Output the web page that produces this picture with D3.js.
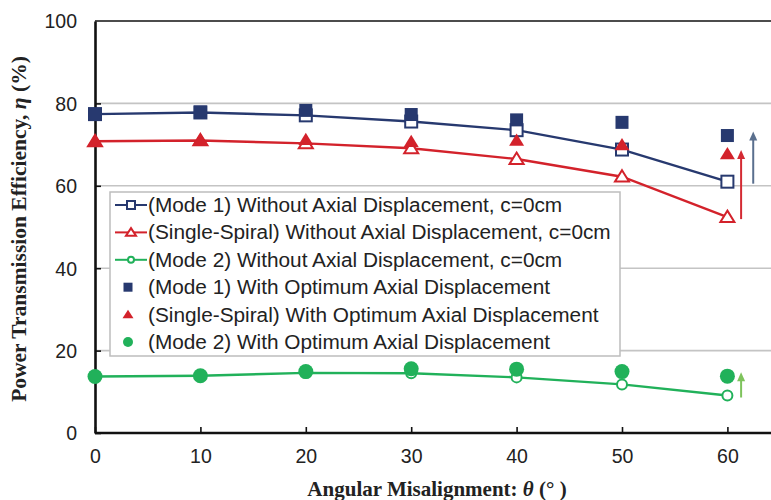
<!DOCTYPE html>
<html>
<head>
<meta charset="utf-8">
<script src="https://cdn.jsdelivr.net/npm/d3@7"></script>
<style>
  html, body { margin: 0; padding: 0; background: #fff; }
  svg { display: block; }
</style>
</head>
<body>
<svg id="chart" width="771" height="500"></svg>
<script>
// angular misalignment (deg)
const angles = [0, 10, 20, 30, 40, 50, 60];
const xTicks = [0, 10, 20, 30, 40, 50, 60];
const yTicks = [0, 20, 40, 60, 80, 100];

// without axial displacement, c=0cm
const mode1Without = [77.4, 77.8, 77.1, 75.6, 73.5, 68.8, 61.0];
const spiralWithout = [70.8, 71.0, 70.3, 69.1, 66.5, 62.2, 52.4];
const mode2Without = [13.7, 13.9, 14.6, 14.5, 13.5, 11.8, 9.1];

// with optimum axial displacement
const mode1With = [77.4, 77.9, 78.3, 77.3, 76.0, 75.4, 72.2];
const spiralWith = [70.8, 71.1, 71.2, 70.7, 71.0, 69.9, 67.7];
const mode2With = [13.7, 13.9, 14.9, 15.6, 15.5, 14.9, 13.8];

const legendLabels = [
  '(Mode 1) Without Axial Displacement, c=0cm',
  '(Single-Spiral) Without Axial Displacement, c=0cm',
  '(Mode 2) Without Axial Displacement, c=0cm',
  '(Mode 1) With Optimum Axial Displacement',
  '(Single-Spiral) With Optimum Axial Displacement',
  '(Mode 2) With Optimum Axial Displacement'
];

const navy = '#27396f';
const red = '#d3222b';
const green = '#21b15a';

const svg = d3.select('#chart');
const W = 771;

const x = d3.scaleLinear().domain([0, 65]).range([95, 95 + 65 * 10.54]);
const y = d3.scaleLinear().domain([0, 100]).range([433, 21]);

const sans = 'Liberation Sans, Arial, Helvetica, sans-serif';
const serif = 'Liberation Serif, Times New Roman, serif';

// grid lines
svg.append('g')
  .selectAll('line')
  .data(yTicks.filter(d => d > 0 && d < 100))
  .join('line')
  .attr('x1', x(0)).attr('x2', W)
  .attr('y1', d => y(d)).attr('y2', d => y(d))
  .attr('stroke', '#c4c4c4')
  .attr('stroke-width', 1.6);

// top border
svg.append('line')
  .attr('x1', x(0)).attr('x2', W)
  .attr('y1', y(100)).attr('y2', y(100))
  .attr('stroke', '#111').attr('stroke-width', 1.6);

// axes
const xAxis = svg.append('g')
  .attr('transform', `translate(0,${y(0)})`)
  .call(d3.axisBottom(x).tickValues(xTicks).tickSizeInner(-6).tickSizeOuter(0).tickPadding(16));
const yAxis = svg.append('g')
  .attr('transform', `translate(${x(0)},0)`)
  .call(d3.axisLeft(y).tickValues(yTicks).tickSizeInner(-6).tickSizeOuter(0).tickPadding(18));

xAxis.select('.domain').attr('d', `M${x(0)},0H${W}`);
[xAxis, yAxis].forEach(a => {
  a.select('.domain').attr('stroke', '#111').attr('stroke-width', 2.6);
  a.selectAll('.tick line').attr('stroke', '#111').attr('stroke-width', 1.6);
  a.selectAll('.tick text')
    .attr('fill', '#222')
    .attr('font-family', sans)
    .attr('font-size', '19.5px');
});
yAxis.selectAll('.tick text').attr('dy', '0.35em');
yAxis.selectAll('.tick').filter(d => d === 100).select('line').remove();

// legend box
const lg = svg.append('g');
lg.append('rect')
  .attr('x', 110).attr('y', 192)
  .attr('width', 510).attr('height', 164)
  .attr('fill', '#fff')
  .attr('stroke', '#bdbdbd')
  .attr('stroke-width', 1.5);

// markers
function marker(sel, type, color, filled, size) {
  if (type === 'square') {
    sel.append('rect')
      .attr('x', -size / 2).attr('y', -size / 2)
      .attr('width', size).attr('height', size)
      .attr('fill', filled ? color : '#fff')
      .attr('stroke', color).attr('stroke-width', filled ? 0 : 2);
  } else if (type === 'triangle') {
    const h = size * 0.9;
    sel.append('path')
      .attr('d', `M0,${-h * 0.6}L${size / 2 + 1},${h * 0.45}L${-size / 2 - 1},${h * 0.45}Z`)
      .attr('fill', filled ? color : '#fff')
      .attr('stroke', color).attr('stroke-width', filled ? 0 : 2)
      .attr('stroke-linejoin', 'miter');
  } else {
    sel.append('circle')
      .attr('r', filled ? size / 2 : size / 2 - 1)
      .attr('fill', filled ? color : '#fff')
      .attr('stroke', color).attr('stroke-width', filled ? 0 : 2);
  }
}

const withoutSeries = [
  {values: mode1Without, type: 'square', color: navy},
  {values: spiralWithout, type: 'triangle', color: red},
  {values: mode2Without, type: 'circle', color: green}
];
const withSeries = [
  {values: mode1With, type: 'square', color: navy},
  {values: spiralWith, type: 'triangle', color: red},
  {values: mode2With, type: 'circle', color: green}
];

const line = d3.line().x((d, i) => x(angles[i])).y(d => y(d));

withoutSeries.forEach(s => {
  svg.append('path')
    .attr('d', line(s.values))
    .attr('fill', 'none')
    .attr('stroke', s.color)
    .attr('stroke-width', 2.4);
  s.values.forEach((v, i) => {
    marker(svg.append('g').attr('transform', `translate(${x(angles[i])},${y(v)})`), s.type, s.color, false, 12);
  });
});
withSeries.forEach(s => {
  s.values.forEach((v, i) => {
    const sz = s.type === 'circle' ? 15 : 13;
    marker(svg.append('g').attr('transform', `translate(${x(angles[i])},${y(v)})`), s.type, s.color, true, sz);
  });
});

// arrows at 60 deg
const last = angles.length - 1;
const arrows = [
  {from: spiralWithout[last], to: spiralWith[last], dx: 1.3, color: '#d42a33'},
  {from: mode1Without[last], to: mode1With[last], dx: 2.45, color: '#5a6f8e'},
  {from: mode2Without[last], to: mode2With[last], dx: 1.3, color: '#7ec35c'}
];
arrows.forEach(a => {
  const ax = x(angles[last] + a.dx);
  const y0 = y(a.from) + 2;
  const y1 = y(a.to) - 4;
  svg.append('line')
    .attr('x1', ax).attr('x2', ax)
    .attr('y1', y0).attr('y2', y1 + 8)
    .attr('stroke', a.color).attr('stroke-width', 2);
  svg.append('path')
    .attr('d', `M${ax},${y1}L${ax + 4},${y1 + 9}L${ax - 4},${y1 + 9}Z`)
    .attr('fill', a.color);
});

// legend entries
const rowY = d3.range(legendLabels.length).map(i => 205 + i * 27.4);
legendLabels.forEach((label, i) => {
  const cy = rowY[i];
  const isWithout = i < 3;
  const s = isWithout ? withoutSeries[i] : withSeries[i - 3];
  if (isWithout) {
    lg.append('line')
      .attr('x1', 115).attr('x2', 147)
      .attr('y1', cy).attr('y2', cy)
      .attr('stroke', s.color).attr('stroke-width', 2);
    marker(lg.append('g').attr('transform', `translate(131,${cy})`), s.type, s.color, false, 8);
  } else {
    marker(lg.append('g').attr('transform', `translate(128,${cy})`), s.type, s.color, true, s.type === 'circle' ? 10 : 9);
  }
  lg.append('text')
    .attr('transform', `translate(148,${cy + 7}) scale(1.04,1)`)
    .attr('font-family', sans)
    .attr('font-size', '20px')
    .attr('fill', '#222')
    .text(label);
});

// axis titles
const xt = svg.append('text')
  .attr('x', 437).attr('y', 496)
  .attr('text-anchor', 'middle')
  .attr('font-family', serif)
  .attr('font-weight', 'bold')
  .attr('font-size', '21px')
  .attr('fill', '#222');
xt.append('tspan').text('Angular Misalignment: ');
xt.append('tspan').attr('font-style', 'italic').text('θ');
xt.append('tspan').text(' (°   )');

const yt = svg.append('text')
  .attr('transform', 'translate(26,229) rotate(-90)')
  .attr('text-anchor', 'middle')
  .attr('font-family', serif)
  .attr('font-weight', 'bold')
  .attr('font-size', '21.5px')
  .attr('fill', '#222');
yt.append('tspan').text('Power Transmission Efficiency, ');
yt.append('tspan').attr('font-style', 'italic').text('η');
yt.append('tspan').text(' (%)');
</script>
</body>
</html>
